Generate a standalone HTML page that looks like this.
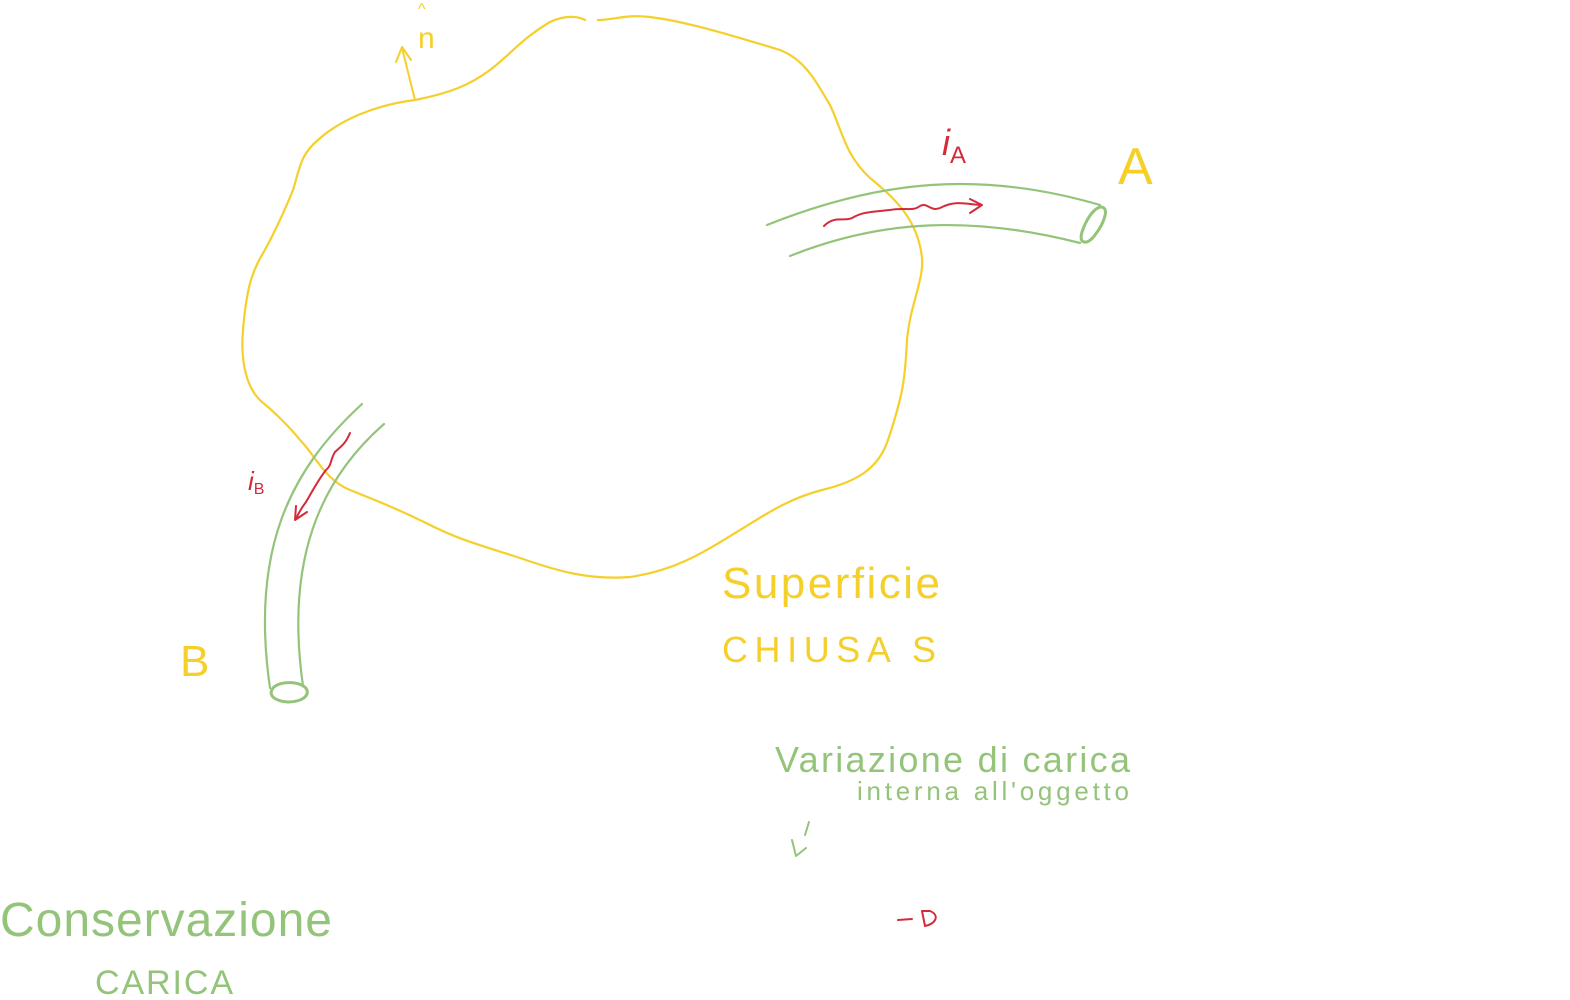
<!DOCTYPE html>
<html><head><meta charset="utf-8"><style>
html,body{margin:0;padding:0;background:#fff;width:1570px;height:1000px;overflow:hidden}
svg{display:block}
text{font-family:"Liberation Sans",sans-serif;font-weight:normal}
</style></head><body>
<svg width="1570" height="1000" viewBox="0 0 1570 1000">
<g fill="none" stroke-linecap="round" stroke-linejoin="round">
<path stroke="#f5cf2a" stroke-width="2.2" d="M415,100 C450,93 470,85 490,70 C510,55 520,40 550,22 C565,15 578,16 585,20 M598,20 C615,20 625,14 650,17 C690,22 740,38 780,50 C805,60 815,80 830,105 C842,130 845,155 870,178 C895,198 918,220 922,258 C924,280 910,305 907,340 C905,380 903,395 888,440 C878,470 855,482 822,490 C795,497 775,508 745,527 C710,548 680,570 630,577 C590,580 560,572 520,558 C480,545 460,540 430,525 C400,510 380,502 350,490 C325,480 315,455 300,440 C288,425 272,410 262,402 C248,390 240,365 243,330 C246,295 250,275 262,255 C272,238 285,210 293,190 C300,168 300,155 318,140 C340,120 375,105 415,100"/>
<path stroke="#f5cf2a" stroke-width="2" d="M415,100 L402,48 M396,62 L402,47 L411,60"/>
<g stroke="#93c47a" stroke-width="2.2">
<path d="M767,225 C880,180 980,170 1100,205"/>
<path d="M790,256 C880,220 970,215 1080,243"/>
<path stroke-width="3" d="M1100,207 C1110,206 1105,222 1095,235 C1088,245 1078,245 1082,232 C1086,220 1093,209 1100,207"/>
</g>
<g stroke="#93c47a" stroke-width="2.2">
<path d="M362,404 C290,470 250,550 270,688"/>
<path d="M384,424 C320,480 285,560 303,686"/>
<path stroke-width="3" d="M273,688 C280,680 303,681 307,690 C310,700 290,705 278,700 C270,697 270,692 273,688"/>
</g>
<g stroke="#d42a3a" stroke-width="2">
<path d="M824,226 C835,215 845,222 852,218 C862,212 870,212 890,210 C905,207 912,212 920,206 C928,202 930,212 940,208 C955,200 965,204 980,205 M970,199 L982,205 L970,213"/>
</g>
<g stroke="#d42a3a" stroke-width="2">
<path d="M350,433 C345,445 340,447 335,452 C330,460 332,465 326,470 C318,480 312,492 306,502 C300,510 298,514 296,519 M296,506 L295,520 L307,512"/>
</g>
<path stroke="#93c47a" stroke-width="2" d="M792,840 L796,856 L806,848 M805,835 L809,822"/>
<path stroke="#d42a3a" stroke-width="2" d="M898,920 L912,919 M922,911 L925,926 C936,924 940,915 930,911 L922,911"/>
</g>
<text x="418" y="48" font-size="30" fill="#f5cf2a">n</text>
<text x="418" y="14" font-size="16" fill="#f5cf2a">^</text>
<text x="942" y="155" font-size="36" font-style="italic" fill="#d42a3a">i<tspan font-size="24" dy="8" font-style="normal">A</tspan></text>
<text x="248" y="490" font-size="26" font-style="italic" fill="#d42a3a">i<tspan font-size="16" dy="4" font-style="normal">B</tspan></text>
<text x="1118" y="184" font-size="52" fill="#f5cf2a">A</text>
<text x="180" y="676" font-size="44" fill="#f5cf2a">B</text>
<text x="722" y="598" font-size="44" fill="#f5cf2a" textLength="218">Superficie</text>
<text x="722" y="662" font-size="36" fill="#f5cf2a" textLength="214">CHIUSA S</text>
<text x="775" y="772" font-size="36" fill="#93c47a" textLength="355">Variazione di carica</text>
<text x="857" y="800" font-size="26" fill="#93c47a" textLength="272">interna all'oggetto</text>
<text x="0" y="936" font-size="48" fill="#93c47a" textLength="332">Conservazione</text>
<text x="95" y="994" font-size="34" fill="#93c47a" textLength="138">CARICA</text>
</svg>
</body></html>
